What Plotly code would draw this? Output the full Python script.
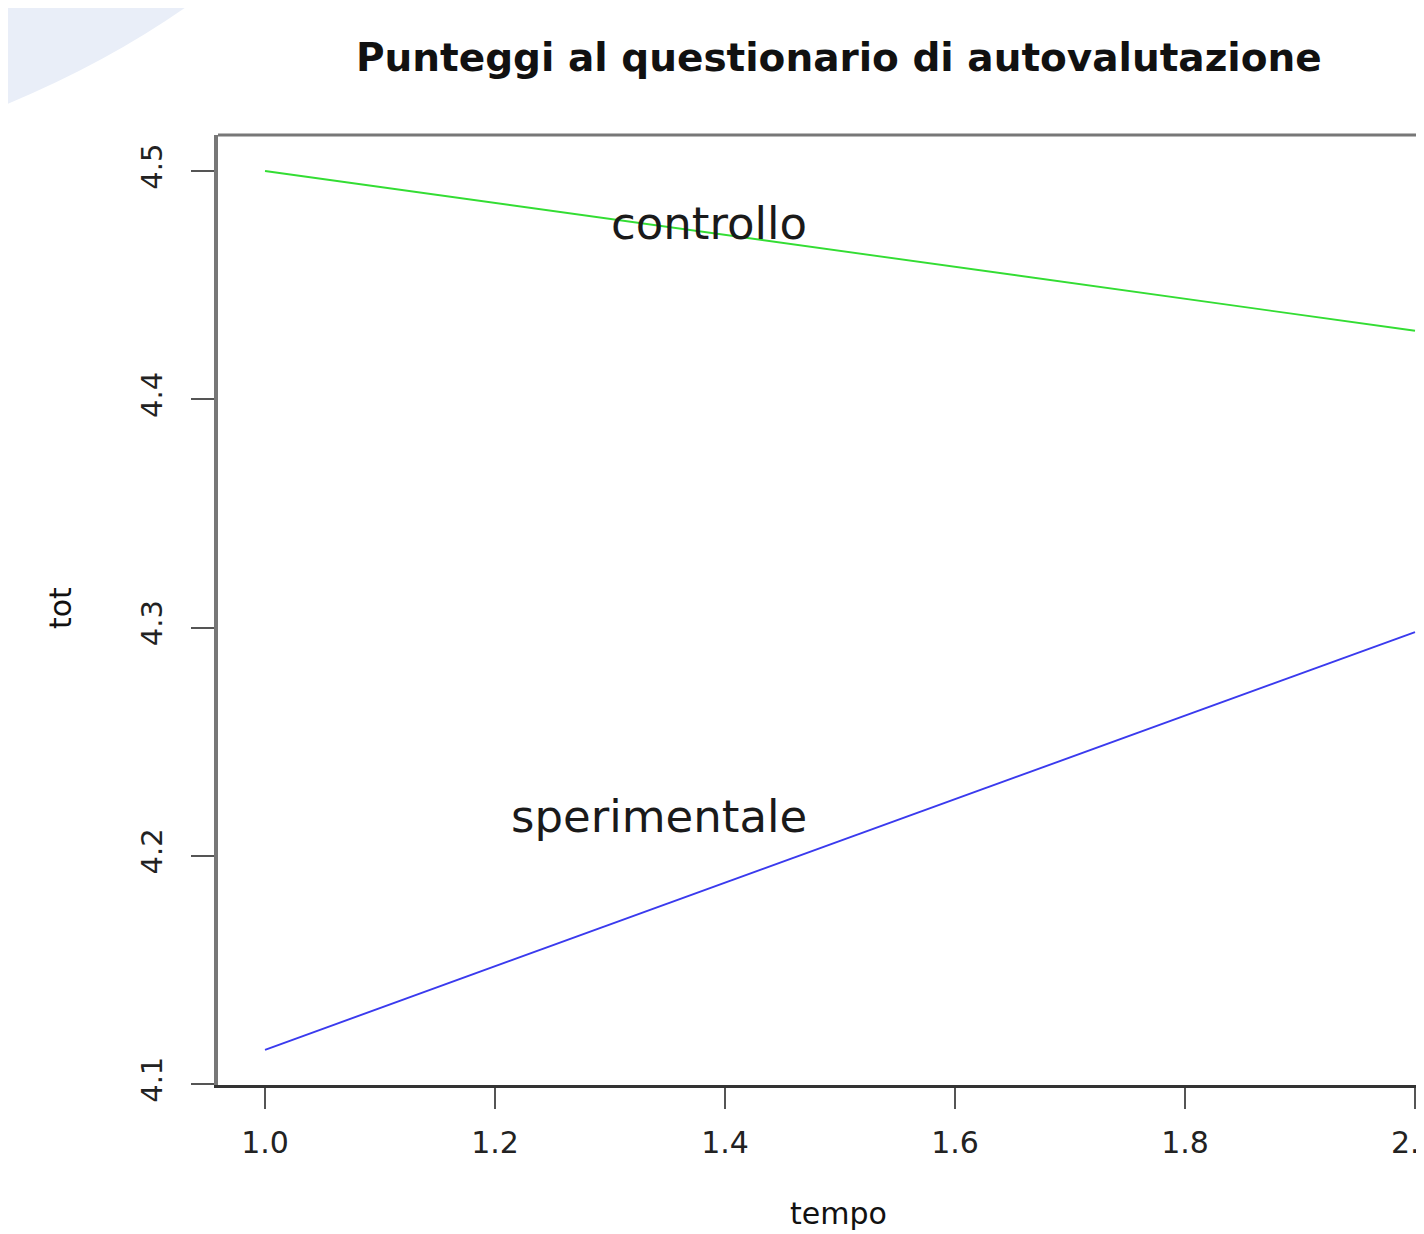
import plotly.graph_objects as go

# ---- data ----
tempo = [1.0, 2.0]
controllo = [4.50, 4.430]
sperimentale = [4.115, 4.298]

x_ticks = [1.0, 1.2, 1.4, 1.6, 1.8, 2.0]
x_ticktext = ["1.0", "1.2", "1.4", "1.6", "1.8", "2.0"]
y_ticks = [4.1, 4.2, 4.3, 4.4, 4.5]
y_ticktext = ["4.1", "4.2", "4.3", "4.4", "4.5"]

label_names = ["controllo", "sperimentale"]
label_x = [1.386, 1.343]
label_y = [4.4768, 4.2173]

# the page is shown with an 8px body margin; compensate so that the
# figure lines up with the reference picture coordinates
OFF = 8
W, H = 1424 - OFF, 1234 - OFF
L, R, T, B = 218 - OFF, 0, 135 - OFF, 149
pw = W - L - R
ph = H - T - B

def px(xp):
    return (xp - OFF - L) / pw

def py(yp):
    return (H - B - (yp - OFF)) / ph

FONT = "DejaVu Sans"

fig = go.Figure()
fig.add_trace(go.Scatter(x=tempo, y=controllo, mode="lines",
                         line=dict(color="#33dd33", width=1.9), showlegend=False))
fig.add_trace(go.Scatter(x=tempo, y=sperimentale, mode="lines",
                         line=dict(color="#3a3aee", width=1.9), showlegend=False))

annotations = []
for name, lx, ly in zip(label_names, label_x, label_y):
    annotations.append(dict(x=lx, y=ly, xref="x", yref="y", text=name, showarrow=False,
                            font=dict(family=FONT, size=45, color="#1a1a1a"),
                            xanchor="center", yanchor="middle"))

# last x tick label sits at the right edge and is cut by it (as in the reference)
annotations.append(dict(x=x_ticks[-1], y=py(1142), xref="x", yref="paper",
                        text=x_ticktext[-1], showarrow=False,
                        font=dict(family=FONT, size=30, color="#222"),
                        xanchor="center", yanchor="middle"))

annotations.append(dict(x=px(839), y=py(57), xref="paper", yref="paper",
                        text="Punteggi al questionario di autovalutazione", showarrow=False,
                        font=dict(family=FONT, size=39, color="#111", weight="bold"),
                        xanchor="center", yanchor="middle"))
annotations.append(dict(x=px(838), y=py(1213), xref="paper", yref="paper",
                        text="tempo", showarrow=False,
                        font=dict(family=FONT, size=30, color="#111"),
                        xanchor="center", yanchor="middle"))
annotations.append(dict(x=px(60), y=py(608), xref="paper", yref="paper",
                        text="tot", showarrow=False, textangle=-90,
                        font=dict(family=FONT, size=30, color="#111"),
                        xanchor="center", yanchor="middle"))

shapes = [
    # light decorative swoosh in top-left corner
    dict(type="path", xref="paper", yref="paper",
         path=(f"M {px(0)},{py(0)} L {px(196)},{py(0)} "
               f"Q {px(110)},{py(62)} {px(0)},{py(107)} Z"),
         fillcolor="#e9eef8", line=dict(width=0), layer="below"),
    # top border of box
    dict(type="line", xref="paper", yref="paper", x0=0, x1=1, y0=1, y1=1,
         line=dict(color="#777777", width=3)),
]

fig.update_layout(
    width=W, height=H,
    margin=dict(l=L, r=R, t=T, b=B, pad=0),
    paper_bgcolor="white", plot_bgcolor="white",
    annotations=annotations, shapes=shapes,
    xaxis=dict(range=[0.9591, 2.00783], tickvals=x_ticks, ticktext=x_ticktext,
               showgrid=False, zeroline=False, showline=True, linecolor="#333333",
               linewidth=2.5, ticks="outside", ticklen=21, tickwidth=2,
               tickcolor="#555555", tickfont=dict(family=FONT, size=30, color="#222"),
               ticklabelstandoff=8, automargin=False),
    yaxis=dict(range=[4.0996, 4.51575], tickvals=y_ticks, ticktext=y_ticktext,
               showgrid=False, zeroline=False, showline=True, linecolor="#777777",
               linewidth=3.5, ticks="outside", ticklen=23, tickwidth=2,
               tickcolor="#555555", tickangle=-90,
               tickfont=dict(family=FONT, size=29, color="#222"),
               ticklabelstandoff=18, automargin=False),
)

fig.write_html("out.html")
